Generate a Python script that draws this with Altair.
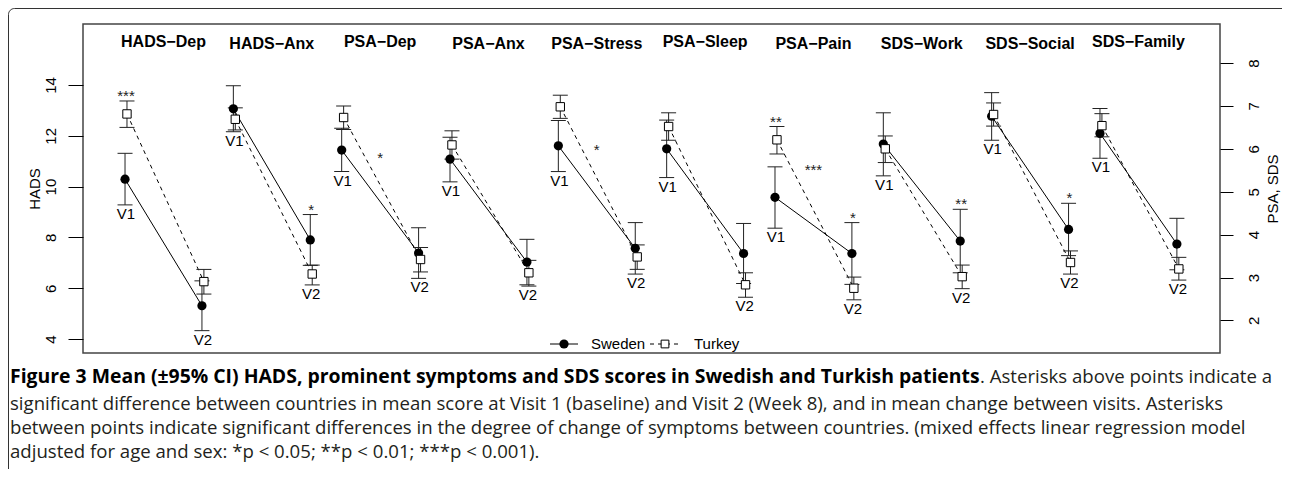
import altair as alt
import pandas as pd

# ---------------- data ----------------
groups = ["HADS\u2212Dep", "HADS\u2212Anx", "PSA\u2212Dep", "PSA\u2212Anx", "PSA\u2212Stress",
          "PSA\u2212Sleep", "PSA\u2212Pain", "SDS\u2212Work", "SDS\u2212Social", "SDS\u2212Family"]
group_axis = ["left", "left", "right", "right", "right", "right", "right", "right", "right", "right"]
visits = ["V1", "V2"]
countries = ["Sweden", "Turkey"]

swe_v1_mean = [10.29, 13.06, 5.97, 5.76, 6.07, 6.00, 4.87, 6.11, 6.76, 6.36]
swe_v1_lo = [9.28, 12.16, 5.47, 5.23, 5.47, 5.33, 4.15, 5.37, 6.20, 5.78]
swe_v1_hi = [11.31, 13.97, 6.48, 6.27, 6.66, 6.67, 5.58, 6.84, 7.31, 6.94]
swe_v2_mean = [5.31, 7.90, 3.57, 3.36, 3.68, 3.56, 3.56, 3.85, 4.12, 3.78]
swe_v2_lo = [4.33, 6.90, 2.98, 2.83, 3.08, 2.86, 2.84, 3.11, 3.51, 3.18]
swe_v2_hi = [6.29, 8.90, 4.16, 3.89, 4.28, 4.26, 4.28, 4.59, 4.73, 4.38]
tur_v1_mean = [12.86, 12.65, 6.73, 6.09, 6.98, 6.52, 6.21, 6.00, 6.80, 6.54]
tur_v1_lo = [12.33, 12.23, 6.45, 5.76, 6.71, 6.20, 5.88, 5.68, 6.53, 6.28]
tur_v1_hi = [13.37, 13.10, 7.00, 6.42, 7.25, 6.84, 6.52, 6.30, 7.07, 6.82]
tur_v2_mean = [6.26, 6.56, 3.42, 3.11, 3.48, 2.83, 2.75, 3.02, 3.35, 3.20]
tur_v2_lo = [5.77, 6.13, 3.13, 2.80, 3.19, 2.54, 2.48, 2.74, 3.08, 2.94]
tur_v2_hi = [6.74, 6.91, 3.70, 3.40, 3.76, 3.11, 3.01, 3.29, 3.62, 3.47]

# significance asterisks above points (group index, visit, text)
stars_above_group = [0, 1, 6, 6, 7, 8]
stars_above_visit = ["V1", "V2", "V1", "V2", "V2", "V2"]
stars_above_text = ["***", "*", "**", "*", "**", "*"]
# asterisks between the two visits (group index, value on PSA/SDS axis, text)
stars_between_group = [2, 4, 6]
stars_between_y = [5.88, 6.07, 5.61]
stars_between_text = ["*", "*", "***"]

left_ticks = [4, 6, 8, 10, 12, 14]
right_ticks = [2, 3, 4, 5, 6, 7, 8]
left_title = "HADS"
right_title = "PSA, SDS"
legend_labels = ["Sweden", "Turkey"]

caption_bold = "Figure 3 Mean (\u00b195% CI) HADS, prominent symptoms and SDS scores in Swedish and Turkish patients"
caption_rest = [
    ". Asterisks above points indicate a",
    "significant difference between countries in mean score at Visit 1 (baseline) and Visit 2 (Week 8), and in mean change between visits. Asterisks",
    "between points indicate significant differences in the degree of change of symptoms between countries. (mixed effects linear regression model",
    "adjusted for age and sex: *p < 0.05; **p < 0.01; ***p < 0.001).",
]

# ---------------- layout constants ----------------
W, H = 1137, 329
V_OFF = {"V1": 0.0, "V2": 0.71}
C_OFF = {"Sweden": 0.0, "Turkey": 0.018}
X_DOMAIN = [-0.388, 10.108]
Y_DOMAIN = {"left": [3.45, 16.4], "right": [1.24, 8.91]}
FONT = "Liberation Sans"
INK = "#222222"

# ---------------- tables ----------------
series = {
    ("Sweden", "V1"): (swe_v1_mean, swe_v1_lo, swe_v1_hi),
    ("Sweden", "V2"): (swe_v2_mean, swe_v2_lo, swe_v2_hi),
    ("Turkey", "V1"): (tur_v1_mean, tur_v1_lo, tur_v1_hi),
    ("Turkey", "V2"): (tur_v2_mean, tur_v2_lo, tur_v2_hi),
}
rows = []
for (c, v), (m, lo, hi) in series.items():
    for i, g in enumerate(groups):
        rows.append(dict(g=g, side=group_axis[i], country=c, visit=v,
                         x=i + V_OFF[v] + C_OFF[c], mean=m[i], lo=lo[i], hi=hi[i]))
pts = pd.DataFrame(rows)

caps = pd.concat([
    pts[["g", "side", "country", "x"]].assign(v=pts["lo"]),
    pts[["g", "side", "country", "x"]].assign(v=pts["hi"]),
])

lab_rows = []
for i, g in enumerate(groups):
    for v in visits:
        sub = pts[(pts.g == g) & (pts.visit == v)]
        lab_rows.append(dict(g=g, side=group_axis[i], t=v, x=i + V_OFF[v] + 0.009,
                             y=sub["lo"].min()))
labels = pd.DataFrame(lab_rows)

sa_rows = []
for gi, v, t in zip(stars_above_group, stars_above_visit, stars_above_text):
    sub = pts[(pts.g == groups[gi]) & (pts.visit == v)]
    sa_rows.append(dict(side=group_axis[gi], t=t, x=gi + V_OFF[v] + 0.009, y=sub["hi"].max()))
stars_above = pd.DataFrame(sa_rows)

stars_between = pd.DataFrame(dict(
    side=[group_axis[gi] for gi in stars_between_group],
    t=stars_between_text,
    x=[gi + (V_OFF["V1"] + V_OFF["V2"]) / 2 for gi in stars_between_group],
    y=stars_between_y,
))

titles = pd.DataFrame(dict(t=groups, x=[i + (V_OFF["V1"] + V_OFF["V2"]) / 2 for i in range(len(groups))]))
titles["desc"] = titles["t"].apply(lambda s: any(ch in "gjpqy" for ch in s))

# ---------------- encodings ----------------
X = alt.X("x:Q", scale=alt.Scale(domain=X_DOMAIN, nice=False, zero=False), axis=None)


def y_axis(side):
    common = dict(tickColor="black", tickWidth=1, domain=False, grid=False,
                  labelAngle=270, labelAlign="center", labelBaseline="middle",
                  labelFont=FONT, labelFontSize=15, labelColor="black", labelOverlap=False,
                  titleFont=FONT, titleFontSize=15, titleFontWeight="normal", titleColor="black",
                  titleAngle=270, titleBaseline="alphabetic", titleAlign="center", titleY=H / 2)
    if side == "left":
        return alt.Axis(orient="left", values=left_ticks, tickSize=15, labelPadding=18,
                        title=left_title, titleX=-43.5, **common)
    return alt.Axis(orient="right", values=right_ticks, tickSize=13, labelPadding=20,
                    title=right_title, titleX=57, **common)


def Y(field, side):
    return alt.Y(field, type="quantitative",
                 scale=alt.Scale(domain=Y_DOMAIN[side], nice=False, zero=False),
                 axis=y_axis(side))


def side_layer(side):
    p = pts[pts.side == side]
    cp = caps[caps.side == side]
    lb = labels[labels.side == side]
    layers = [
        alt.Chart(p[p.country == "Sweden"]).mark_line(color="black", strokeWidth=1)
        .encode(x=X, y=Y("mean", side), detail="g:N"),
        alt.Chart(p[p.country == "Turkey"]).mark_line(color="black", strokeWidth=1, strokeDash=[4, 4])
        .encode(x=X, y=Y("mean", side), detail="g:N"),
        alt.Chart(p).mark_rule(color=INK, strokeWidth=1)
        .encode(x=X, y=Y("lo", side), y2="hi:Q"),
        alt.Chart(cp).mark_tick(orient="horizontal", size=15, thickness=1, color=INK, opacity=1)
        .encode(x=X, y=Y("v", side)),
        alt.Chart(p[p.country == "Sweden"]).mark_point(shape="circle", filled=True, size=85,
                                                      color="black", opacity=1)
        .encode(x=X, y=Y("mean", side)),
        alt.Chart(p[p.country == "Turkey"]).mark_point(shape="square", filled=True, size=70,
                                                      fill="white", stroke="black", strokeWidth=1,
                                                      opacity=1)
        .encode(x=X, y=Y("mean", side)),
        alt.Chart(lb).mark_text(font=FONT, fontSize=15, baseline="top", dy=2, color="black")
        .encode(x=X, y=Y("y", side), text="t:N"),
    ]
    sa = stars_above[stars_above.side == side]
    if len(sa):
        layers.append(alt.Chart(sa).mark_text(font=FONT, fontSize=15, baseline="alphabetic",
                                              dy=0, color=INK)
                      .encode(x=X, y=Y("y", side), text="t:N"))
    sb = stars_between[stars_between.side == side]
    if len(sb):
        layers.append(alt.Chart(sb).mark_text(font=FONT, fontSize=15, baseline="alphabetic",
                                              dy=9, color=INK)
                      .encode(x=X, y=Y("y", side), text="t:N"))
    return alt.layer(*layers)


one = pd.DataFrame({"k": [0]})

frame = alt.Chart(one).mark_rect(cornerRadius=6, fillOpacity=0, stroke="#333333", strokeWidth=1).encode(
    x=alt.value(-74.5), x2=alt.value(1300), y=alt.value(-15.5), y2=alt.value(480))

title_plain = alt.Chart(titles[~titles.desc]).mark_text(
    font=FONT, fontSize=16, fontWeight="bold", baseline="alphabetic", color="black").encode(
    x=X, y=alt.value(25), text="t:N")
title_desc = alt.Chart(titles[titles.desc]).mark_text(
    font=FONT, fontSize=16, fontWeight="bold", baseline="alphabetic", color="black").encode(
    x=X, y=alt.value(23), text="t:N")

LEG_Y = 320
leg = [
    alt.Chart(one).mark_rule(color="black", strokeWidth=1).encode(
        x=alt.value(467), x2=alt.value(495), y=alt.value(LEG_Y)),
    alt.Chart(one).mark_point(shape="circle", filled=True, size=85, color="black", opacity=1).encode(
        x=alt.value(481), y=alt.value(LEG_Y)),
    alt.Chart(pd.DataFrame({"t": [legend_labels[0]]})).mark_text(
        font=FONT, fontSize=15, align="left", baseline="middle", color="black").encode(
        x=alt.value(508), y=alt.value(LEG_Y), text="t:N"),
    alt.Chart(one).mark_rule(color="black", strokeWidth=1, strokeDash=[4, 4]).encode(
        x=alt.value(567), x2=alt.value(597), y=alt.value(LEG_Y)),
    alt.Chart(one).mark_point(shape="square", filled=True, size=60, fill="white", stroke="black",
                              strokeWidth=1, opacity=1).encode(
        x=alt.value(582), y=alt.value(LEG_Y)),
    alt.Chart(pd.DataFrame({"t": [legend_labels[1]]})).mark_text(
        font=FONT, fontSize=15, align="left", baseline="middle", color="black").encode(
        x=alt.value(611), y=alt.value(LEG_Y), text="t:N"),
]

CAP_FONT = "Open Sans"
CAP_X = -73
CAP_Y = [359, 385.5, 409.5, 434]
cap_layers = [
    alt.Chart(pd.DataFrame({"t": [caption_bold]})).mark_text(
        font=CAP_FONT, fontSize=19.4, fontWeight="bold", align="left", baseline="alphabetic",
        color="black").encode(x=alt.value(CAP_X), y=alt.value(CAP_Y[0]), text="t:N"),
    alt.Chart(pd.DataFrame({"t": [caption_rest[0]]})).mark_text(
        font=CAP_FONT, fontSize=18.6, align="left", baseline="alphabetic", color="#231f20").encode(
        x=alt.value(897), y=alt.value(CAP_Y[0]), text="t:N"),
]
for k in range(1, 4):
    cap_layers.append(alt.Chart(pd.DataFrame({"t": [caption_rest[k]]})).mark_text(
        font=CAP_FONT, fontSize=18.6, align="left", baseline="alphabetic", color="#231f20").encode(
        x=alt.value(CAP_X), y=alt.value(CAP_Y[k]), text="t:N"))

chart = alt.layer(
    frame,
    side_layer("left"),
    side_layer("right"),
    title_plain, title_desc,
    *leg,
    *cap_layers,
).resolve_scale(y="independent").properties(
    width=W, height=H,
    autosize=alt.AutoSizeParams(type="none"),
    padding={"left": 75, "top": 16, "right": 62, "bottom": 116},
    background="white",
).configure_view(stroke="#444444", strokeWidth=1.5)

chart.save("out.html", embed_options={"renderer": "svg", "actions": False})
